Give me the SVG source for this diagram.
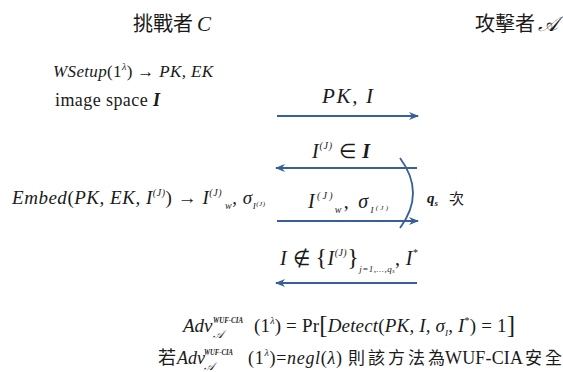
<svg xmlns="http://www.w3.org/2000/svg" width="563" height="372" viewBox="0 0 563 372">
<style>
text{font-family:"Liberation Serif","Times New Roman",serif;fill:#1a1a1a}
.m{font-family:"Liberation Serif","Times New Roman",serif;font-style:italic}
.r{font-family:"Liberation Serif","Times New Roman",serif;font-style:normal}
.cjk{font-family:"Noto Sans CJK TC","Noto Sans CJK SC",sans-serif;font-style:normal}
.arr{stroke:#36609a;stroke-width:1.8;fill:none}
</style>
<defs>
<marker id="ah" markerUnits="userSpaceOnUse" markerWidth="11" markerHeight="10" refX="9" refY="5" orient="auto">
<path d="M0,1 L10,5 L0,9 L3,5 z" fill="#36609a"/>
</marker>
</defs>
<rect width="563" height="372" fill="#ffffff"/>

<g id="challenger">
<text x="133" y="31" font-size="20"><tspan class="cjk">挑戰者</tspan><tspan class="m" dx="4" font-size="21">C</tspan></text>
<text x="53" y="77" font-size="17" textLength="160" lengthAdjust="spacing"><tspan class="m">WSetup</tspan><tspan class="r">(1</tspan><tspan class="m" font-size="10" dy="-7">λ</tspan><tspan class="r" dy="7">) → </tspan><tspan class="m">PK, EK</tspan></text>
<text x="55" y="106" font-size="18" textLength="105" lengthAdjust="spacing"><tspan class="r">image space </tspan><tspan class="m" font-weight="bold">I</tspan></text>
<text x="12" y="204" font-size="19" textLength="253" lengthAdjust="spacing"><tspan class="m">Embed</tspan><tspan class="r">(</tspan><tspan class="m">PK, EK, I</tspan><tspan class="m" font-size="10" dy="-8">(J)</tspan><tspan class="r" dy="8">) → </tspan><tspan class="m">I</tspan><tspan class="m" font-size="10" dy="-8">(J)</tspan><tspan class="m" font-size="10" dy="13"> w</tspan><tspan class="r" dy="-5">, </tspan><tspan class="m">σ</tspan><tspan class="m" font-size="9" dy="5">I</tspan><tspan class="m" font-size="7" dy="-3">(J)</tspan></text>
</g>

<g id="adversary">
<text x="475" y="31" font-size="20"><tspan class="cjk">攻擊者</tspan><tspan class="m" dx="3" font-size="21">𝒜</tspan></text>
</g>

<g id="connectors">
<line class="arr" x1="277" y1="116" x2="418" y2="116" marker-end="url(#ah)"/>
<line class="arr" x1="417" y1="168" x2="276" y2="168" marker-end="url(#ah)"/>
<line class="arr" x1="277" y1="221" x2="418" y2="221" marker-end="url(#ah)"/>
<line class="arr" x1="417" y1="283" x2="276" y2="283" marker-end="url(#ah)"/>
<path class="arr" d="M400,158 Q426,193 400,228"/>
</g>

<g id="labels">
<text x="322" y="103" font-size="21" textLength="51" lengthAdjust="spacing" class="m">PK, I</text>
<text x="312" y="158" font-size="20" textLength="58" lengthAdjust="spacing"><tspan class="m">I</tspan><tspan class="m" font-size="10" dy="-9">(J)</tspan><tspan class="r" dy="9"> ∈ </tspan><tspan class="m" font-weight="bold">I</tspan></text>
<text x="308" y="208" font-size="20" textLength="80" lengthAdjust="spacing"><tspan class="m">I</tspan><tspan class="m" font-size="10" dy="-9">(J)</tspan><tspan class="m" font-size="10" dy="14">w</tspan><tspan class="r" dy="-5">, </tspan><tspan class="m">σ</tspan><tspan class="m" font-size="9" dy="5">I</tspan><tspan class="m" font-size="7" dy="-3">(J)</tspan></text>
<text x="427" y="203" font-size="15" class="m" font-weight="bold">q<tspan font-size="9" dy="3">s</tspan></text>
<text x="449" y="204" font-size="15" class="cjk">次</text>
<text x="280" y="265" font-size="20" textLength="138" lengthAdjust="spacing"><tspan class="m">I</tspan><tspan class="r"> ∉ </tspan><tspan class="r" font-size="24">{</tspan><tspan class="m">I</tspan><tspan class="m" font-size="10" dy="-9">(J)</tspan><tspan class="r" font-size="24" dy="9">}</tspan><tspan class="m" font-size="9" dy="7">j=1,...,q</tspan><tspan class="m" font-size="6" dy="1">s</tspan><tspan class="r" dy="-8">, </tspan><tspan class="m">I</tspan><tspan class="r" font-size="10" dy="-9">*</tspan></text>
</g>

<g id="advantage">
<text x="183" y="332" font-size="19" class="m">Adv</text>
<text x="213" y="323" font-size="8.5" class="m" font-weight="bold" textLength="30" lengthAdjust="spacingAndGlyphs">WUF-CIA</text>
<text x="213" y="338" font-size="11" class="m">𝒜</text>
<text x="254" y="332" font-size="19" textLength="261" lengthAdjust="spacing"><tspan class="r">(1</tspan><tspan class="m" font-size="10" dy="-8">λ</tspan><tspan class="r" dy="8">) = Pr</tspan><tspan class="r" font-size="25" dy="1">[</tspan><tspan class="m" dy="-1">Detect</tspan><tspan class="r">(</tspan><tspan class="m">PK, I, σ</tspan><tspan class="m" font-size="9" dy="4">I</tspan><tspan class="r" dy="-4">, </tspan><tspan class="m">I</tspan><tspan class="r" font-size="10" dy="-8">*</tspan><tspan class="r" dy="8">) = 1</tspan><tspan class="r" font-size="25" dy="1">]</tspan></text>

<text x="158" y="364" font-size="18" class="cjk">若</text>
<text x="177" y="364" font-size="18" class="m">Adv</text>
<text x="204" y="355" font-size="8.5" class="m" font-weight="bold" textLength="29" lengthAdjust="spacingAndGlyphs">WUF-CIA</text>
<text x="204" y="370" font-size="11" class="m">𝒜</text>
<text x="248" y="364" font-size="18" textLength="94" lengthAdjust="spacing"><tspan class="r">(1</tspan><tspan class="m" font-size="10" dy="-8">λ</tspan><tspan class="r" dy="8">)=</tspan><tspan class="m">negl</tspan><tspan class="r">(</tspan><tspan class="m">λ</tspan><tspan class="r">)</tspan></text>
<text x="348" y="364" font-size="17" class="cjk" textLength="97" lengthAdjust="spacing">則該方法為</text>
<text x="445" y="364" font-size="18" class="r" textLength="78" lengthAdjust="spacing">WUF-CIA</text>
<text x="525" y="364" font-size="17" class="cjk" textLength="37" lengthAdjust="spacing">安全</text>
</g>
</svg>
